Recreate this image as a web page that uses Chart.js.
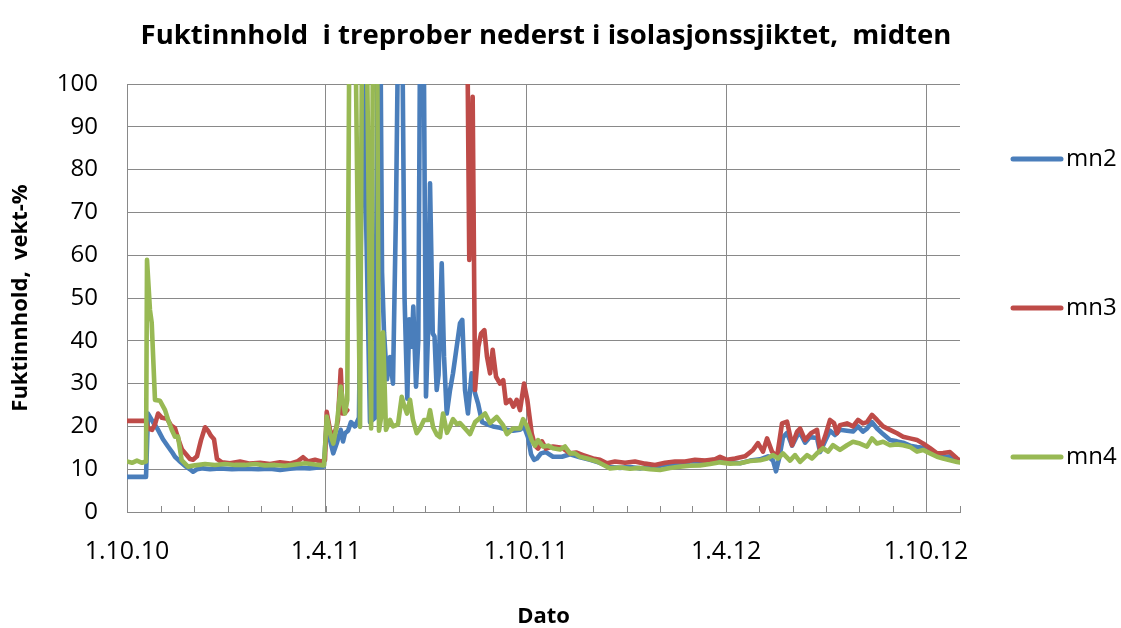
<!DOCTYPE html>
<html><head><meta charset="utf-8">
<script src="https://cdn.jsdelivr.net/npm/chart.js@4.4.0/dist/chart.umd.min.js"></script>
<style>html,body{margin:0;padding:0;background:#fff;}</style>
</head><body>
<canvas id="c" width="1121" height="628"></canvas>
<script>
const FONT = "'Open Sans', sans-serif";
const chartTitle = 'Fuktinnhold  i treprober nederst i isolasjonssjiktet,  midten';
const yTitle = 'Fuktinnhold,  vekt-%';
const xTitle = 'Dato';
// x axis: days since 1.10.10
const tickDays = [0, 182, 365, 548, 731];
const tickLabels = ['1.10.10', '1.4.11', '1.10.11', '1.4.12', '1.10.12'];
const monthDays = [0,31,61,92,123,151,182,212,243,273,304,335,365,396,426,457,488,517,548,578,609,639,670,701,731,762];
const seriesNames = ['mn2', 'mn3', 'mn4'];
const seriesColors = ['#4A7EBB', '#BE4B48', '#98B954'];

const mn2Days = [0,17.4,19.2,23.8,28.4,32.9,37.5,41.2,43.9,47.6,50.3,54,57.6,60.4,64,69.5,75.9,85,96,108,120,131,140,149,158,167,175,180,182.7,185.7,188.7,191.8,195.5,197.6,199.4,202.2,204.9,208.5,212.2,215.9,218.6,222.3,226.9,229.6,231.9,233.3,235.1,237.8,240.6,243.3,246.1,248.8,251.6,253.9,256.4,258.2,260.4,261.9,264.4,266.5,268.5,271.2,273.5,275.4,277.2,279.7,281.3,283.3,285,287.9,290,292.5,295.5,298.2,301.6,304.6,306.7,309.2,311.9,315.3,318.4,321.1,324.8,329.3,334.8,341.2,347.6,353.1,359.5,363.2,366.8,369.6,372.3,375,378.7,383.2,389.7,397.9,405.3,414.4,423.6,432.7,441.8,451,460.1,469.3,478.4,487.6,496.7,505.9,515,524.2,533.3,542.5,551.7,560.8,570,579.1,586.4,591,593.7,596.5,600.1,603.8,608.4,613,615.7,620.3,624.8,631.2,634,638.5,643.1,647.7,652.2,658.6,664.1,668.7,673.2,676.9,681.5,686.1,691.6,698,704.4,709.9,716.3,722.7,728.2,734.6,741,746.5,752.9,759.3,762];
const mn2Values = [8.2,8.2,23.0,21.0,19.2,17.0,15.3,14.0,12.9,12.0,11.4,10.6,10.0,9.4,10.0,10.2,10.0,10.2,10.0,10.1,10.0,10.1,9.8,10.1,10.3,10.2,10.4,10.6,20.7,16.8,13.7,16.0,19.2,16.5,18.4,19.0,21,20,22,110,70,21,22,120,110,56,42,31,36.2,30,71,130,120,50,26.5,45,38.6,48,29.3,40.2,130,120,27,42,76.8,41.7,41,28.5,32,58.1,36.3,23.0,28.5,32.4,38.6,44.1,44.9,28.5,23,32.4,27.7,25.4,21,20.5,20.0,19.7,19.2,19.0,19.2,20.0,17.5,13.5,12.2,12.5,13.7,14.0,12.9,12.9,13.5,12.8,12.2,11.5,10.5,10.3,10.5,10.2,10.5,10.8,11.2,11.3,11.8,11.8,12.0,12.4,11.6,11.4,12.0,12.3,13.0,12.0,9.5,12.5,17.5,18.5,15.5,17.8,18.5,16.2,17.5,17.3,14.0,16.5,19.0,18.0,19.2,19.0,18.8,20.0,18.8,19.5,21.0,19.5,18.2,16.8,16.5,16.2,15.5,15.2,15.0,14.2,13.5,12.8,13.0,12.0,11.8];

const mn3Days = [0,17.4,19.2,22.9,25.6,28.4,32,36.6,40.3,43.9,47.6,50.3,54,57.6,60.4,64,67.7,71.4,74.1,76.8,79.6,82.3,86.9,94.2,103.4,112.5,121.7,130.8,140,149.1,156.4,161,165.6,172,177.5,181.1,182.7,185.7,188.7,191.8,193,195.5,197.3,199.4,201.5,203,310.7,313.1,316.2,318.4,321.4,323.9,326.9,329.3,332.1,334.5,337.6,341.2,344.2,346.7,350.4,353.4,356.5,359.5,363.2,366.2,370.2,373.2,376,379.6,383.2,389.7,397.9,405.3,410.8,417.2,426.3,432.7,439.1,446.4,455.6,464.7,473.9,483,492.2,501.3,510.5,519.6,528.8,537.9,542.5,548.9,556.2,565.3,572.7,577.2,581.8,585.5,590,594.6,599.2,603.8,608.4,613,615.7,620.3,625.7,631.2,634,638.5,643.1,646.7,649.5,652.2,658.6,664.1,668.7,673.2,676.9,681.5,686.1,691.6,698,704.4,709.9,716.3,722.7,728.2,734.6,741,746.5,752.9,759.3,762];
const mn3Values = [21.3,21.3,19.5,19.2,20.5,23.0,22.0,21.8,20.2,19.6,16.5,14.6,13.5,12.4,12.2,13.0,16.8,19.8,19.0,17.8,17.0,12.4,11.6,11.4,11.8,11.3,11.5,11.2,11.6,11.3,11.9,12.8,11.8,12.2,11.8,12.1,23.4,19.2,17.5,20.0,21.5,33.2,23.0,23.2,23.8,null,130,58.9,97,28.5,38.6,41.7,42.5,36.3,32.4,37.9,31.6,30.0,30.8,25.4,26.2,24.6,26.2,23.8,30.0,26.2,18.4,15.5,14.8,16.5,14.8,15.3,15.0,13.7,13.9,13.3,12.5,12.2,11.4,11.8,11.5,11.8,11.3,11.0,11.5,11.8,11.8,12.2,12.0,12.3,12.9,12.2,12.5,13.0,14.5,16.1,14.1,17.2,14.1,12.9,20.7,21.1,15.6,18.8,19.5,16.8,18.4,19.2,14.5,17.6,21.5,20.8,18.4,20.3,20.7,20.0,21.5,20.7,21.0,22.7,21.5,20.0,19.2,18.4,17.6,17.2,16.8,16.0,14.9,13.7,13.8,14.0,12.5,12.0];

const mn4Days = [0,4.6,9.1,13.7,17.4,18.3,21,22.6,25.6,30.2,34.8,37.5,40.9,43.9,46.7,50,55.8,62.2,71.4,80.5,89.6,98.8,108,117.1,126.2,135.4,144.5,153.7,162.8,172,180.2,182.7,185.7,188.7,191.8,193,195.5,197.3,199.4,201.5,204,207.7,213.2,215.5,218.2,223.3,225.5,228.3,230.5,232.4,234.2,236.9,240.6,243.3,247.9,251.3,253.4,256.1,258.9,261.6,265,268,271.7,275.4,277.2,280,283.6,286.3,289.1,292.7,295.5,298.2,301.9,304.6,309.2,313.8,318.4,323.1,327.6,332.1,338.2,344,347.6,353.1,359.5,362.3,365.9,370.2,373.2,376,380.6,385.2,389.7,396.1,400.7,405.3,409.8,414.4,420.8,430,437.3,441.8,451,460.1,469.3,478.4,487.6,496.7,505.9,515,524.2,533.3,542.5,551.7,560.8,570,579.1,585.5,591,595.6,600.1,606.5,611.1,615.7,622.1,626.7,631.2,636.7,641.3,645.8,652.2,658.6,664.1,670.5,676.9,681.5,686.1,691.6,698,704.4,709.9,716.3,722.7,728.2,734.6,741,746.5,752.9,759.3,762];
const mn4Values = [11.8,11.5,12.0,11.5,11.8,58.9,47.2,44.2,26.2,26.0,23.8,21.6,19.2,17.6,17.6,12.1,10.6,10.9,11.2,11.0,11.2,11.0,11.0,11.2,10.9,11.0,10.8,11.1,11.4,11.1,10.9,22.3,18.4,16.0,20.0,23.0,29.3,26.2,23.0,26.2,140,140,19.9,140,140,19.5,140,140,19.0,22,42,19.2,21.5,20.0,20.5,26.9,25,23.0,26.2,21.5,18.4,19.5,21.5,21.5,23.8,19.8,18.0,17.5,23.0,18.5,20.0,21.7,20.5,20.8,19.5,18.2,21.0,22.0,23.0,20.8,22.2,20.3,18.2,19.5,19.5,21.7,20.0,16.8,15.5,16.8,15.3,15.5,14.9,14.6,15.3,13.7,13.7,12.9,12.5,11.8,10.8,10.2,10.4,10.1,10.3,10.0,9.8,10.3,10.6,10.8,10.9,11.2,11.6,11.3,11.4,11.9,12.1,12.5,13.3,12.5,13.7,12.0,13.3,11.7,13.3,12.5,13.7,14.9,14.1,15.6,14.5,15.6,16.4,16.0,15.3,17.2,16.0,16.4,15.6,15.8,15.6,15.2,14.1,14.5,13.7,12.9,12.5,12.1,11.7,11.6];

const GRID = '#898989';
const toPts = (d, v) => d.map((x, i) => ({x: x, y: v[i]}));
const seriesData = [toPts(mn2Days, mn2Values), toPts(mn3Days, mn3Values), toPts(mn4Days, mn4Values)];

const minorTicks = {
  id: 'minorTicks',
  beforeDatasetsDraw(chart) {
    const {ctx, chartArea, scales} = chart;
    ctx.save();
    ctx.strokeStyle = GRID;
    ctx.lineWidth = 1;
    monthDays.forEach(d => {
      const px = Math.round(scales.x.getPixelForValue(d)) + 0.5;
      ctx.beginPath();
      ctx.moveTo(px, chartArea.bottom);
      ctx.lineTo(px, chartArea.bottom - 6);
      ctx.stroke();
    });
    ctx.restore();
  }
};

const sideLegend = {
  id: 'sideLegend',
  afterDraw(chart) {
    const {ctx, chartArea} = chart;
    ctx.save();
    ctx.font = "24px " + FONT;
    ctx.textBaseline = 'middle';
    ctx.textAlign = 'left';
    chart.data.datasets.forEach((ds, i) => {
      const y = chartArea.top + 75 + i * 149;
      const x0 = chartArea.right + 53;
      ctx.strokeStyle = ds.borderColor;
      ctx.lineWidth = 5;
      ctx.lineCap = 'round';
      ctx.beginPath();
      ctx.moveTo(x0, y);
      ctx.lineTo(x0 + 48, y);
      ctx.stroke();
      ctx.fillStyle = '#000';
      ctx.fillText(ds.label, x0 + 53, y);
    });
    ctx.restore();
  }
};

new Chart(document.getElementById('c'), {
  type: 'line',
  data: {
    datasets: seriesNames.map((n, i) => ({
      label: n,
      data: seriesData[i],
      borderColor: seriesColors[i],
      backgroundColor: seriesColors[i],
      borderWidth: 4.6,
      pointRadius: 0,
      tension: 0,
      spanGaps: false,
      borderCapStyle: 'round',
      borderJoinStyle: 'round',
      order: 3 - i
    }))
  },
  options: {
    responsive: false,
    animation: false,
    events: [],
    layout: {padding: {left: 0, right: 29, top: 0, bottom: 0}},
    plugins: {
      legend: {display: false},
      tooltip: {enabled: false},
      title: {
        display: true, text: chartTitle, color: '#000',
        font: {family: FONT, size: 27.5, weight: 'bold', lineHeight: 1.2},
        padding: {top: 20, bottom: 31}
      }
    },
    scales: {
      x: {
        type: 'linear', min: 0, max: 762,
        afterBuildTicks: s => { s.ticks = tickDays.map(v => ({value: v})); },
        afterFit: s => { s.height = 116; },
        ticks: {autoSkip: false, maxRotation: 0, padding: 25, color: '#000',
          font: {family: FONT, size: 25}, callback: (v, i) => tickLabels[i]},
        grid: {color: GRID, lineWidth: 1, drawTicks: false},
        border: {color: GRID, width: 1},
        title: {display: true, text: xTitle, color: '#000',
          font: {family: FONT, size: 22, weight: 'bold', lineHeight: 1}, padding: {top: 0, bottom: 0}}
      },
      y: {
        min: 0, max: 100,
        afterFit: s => { s.width = 127; },
        ticks: {stepSize: 10, padding: 29, color: '#000', font: {family: FONT, size: 24}},
        grid: {color: GRID, lineWidth: 1, drawTicks: false},
        border: {color: GRID, width: 1},
        title: {display: true, text: yTitle, color: '#000',
          font: {family: FONT, size: 22, weight: 'bold', lineHeight: 1.2}, padding: {top: 8, bottom: 0}}
      },
      y2: {
        type: 'linear', position: 'right', display: true,
        afterFit: s => { s.width = 132; },
        ticks: {display: false}, grid: {display: false}, border: {display: false}
      }
    }
  },
  plugins: [minorTicks, sideLegend]
});
</script>
</body></html>
